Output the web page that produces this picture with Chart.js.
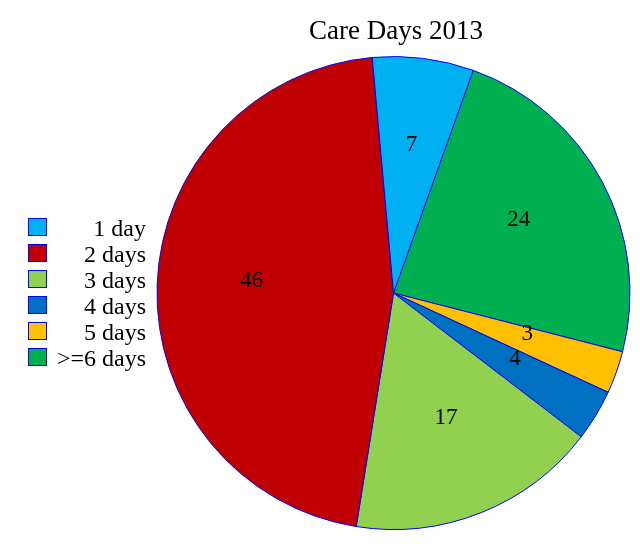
<!DOCTYPE html>
<html>
<head>
<meta charset="utf-8">
<script src="https://cdn.jsdelivr.net/npm/chart.js@4"></script>
<style>
  html, body { margin: 0; padding: 0; background: #fff; }
  #wrap { width: 640px; height: 560px; }
</style>
</head>
<body>
<div id="wrap"><canvas id="careChart" width="640" height="560"></canvas></div>
<script>
// ── Data ──────────────────────────────────────────────
const chartTitle = 'Care Days 2013';
const categories = ['1 day', '2 days', '3 days', '4 days', '5 days', '>=6 days'];
// shares in percent (labels show them rounded)
const values     = [6.9, 46.0, 17.1, 3.5, 2.9, 23.5];
const colors     = ['#00B0F0', '#C00000', '#92D050', '#0070C0', '#FFC000', '#00B050'];

// slices run counter-clockwise in the reference, so feed them reversed
const order = categories.map((_, i) => i).reverse();

const serif = '"Liberation Serif", "Times New Roman", serif';

// ── Title, slice values and legend drawn on canvas ─────
const decorPlugin = {
  id: 'decor',
  afterDraw(chart) {
    const ctx = chart.ctx;
    const meta = chart.getDatasetMeta(0);
    ctx.save();
    ctx.fillStyle = '#000';

    // title
    ctx.font = '27px ' + serif;
    ctx.textAlign = 'center';
    ctx.textBaseline = 'alphabetic';
    ctx.fillText(chartTitle, 396, 39);

    // values inside slices
    ctx.font = '23px ' + serif;
    ctx.textBaseline = 'middle';
    meta.data.forEach((arc, i) => {
      const mid = (arc.startAngle + arc.endAngle) / 2;
      const r = arc.outerRadius * 0.6;
      const x = arc.x + Math.cos(mid) * r;
      const y = arc.y + Math.sin(mid) * r - 7;
      ctx.fillText(String(Math.round(chart.data.datasets[0].data[i])), x, y);
    });

    // legend
    ctx.font = '24px ' + serif;
    categories.forEach((name, i) => {
      const top = 218 + i * 26;
      ctx.fillStyle = colors[i];
      ctx.fillRect(28, top, 19, 18);
      ctx.strokeStyle = '#0000FF';
      ctx.lineWidth = 1;
      ctx.strokeRect(28.5, top + 0.5, 18, 17);
      ctx.fillStyle = '#000';
      ctx.textAlign = 'right';
      ctx.textBaseline = 'alphabetic';
      ctx.fillText(name, 146, top + 18);
    });
    ctx.restore();
  }
};

new Chart(document.getElementById('careChart'), {
  type: 'pie',
  data: {
    labels: order.map(i => categories[i]),
    datasets: [{
      data: order.map(i => values[i]),
      backgroundColor: order.map(i => colors[i]),
      borderColor: '#0000FF',
      borderWidth: 1,
    }]
  },
  options: {
    responsive: false,
    animation: false,
    rotation: 19.7,
    layout: { padding: { left: 156, right: 9, top: 56, bottom: 30 } },
    plugins: {
      legend: { display: false },
      title: { display: false },
      tooltip: { enabled: false }
    }
  },
  plugins: [decorPlugin]
});
</script>
</body>
</html>
